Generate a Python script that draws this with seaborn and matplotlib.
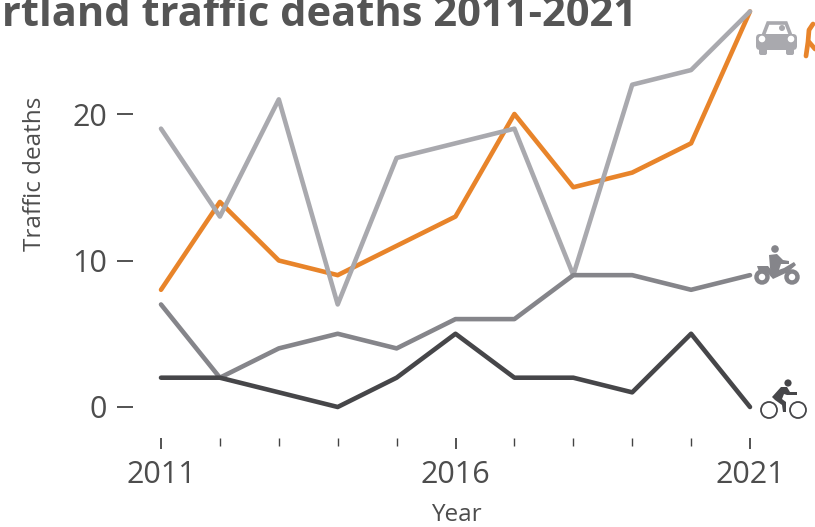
import numpy as np
import pandas as pd
import matplotlib
matplotlib.use("Agg")
import matplotlib.pyplot as plt
import seaborn as sns
from matplotlib.patches import Circle, FancyBboxPatch, Polygon

years = [2011, 2012, 2013, 2014, 2015, 2016, 2017, 2018, 2019, 2020, 2021]
car = [19, 13, 21, 7, 17, 18, 19, 9, 22, 23, 27]
pedestrian = [8, 14, 10, 9, 11, 13, 20, 15, 16, 18, 27]
motorcycle = [7, 2, 4, 5, 4, 6, 6, 9, 9, 8, 9]
bicycle = [2, 2, 1, 0, 2, 5, 2, 2, 1, 5, 0]

title = "Portland traffic deaths 2011-2021"
major_years = [2011, 2016, 2021]
y_ticks = [0, 10, 20]

colors = {"car": "#a9a9ae", "motorcycle": "#85858a", "bicycle": "#464649", "pedestrian": "#e8842a"}

df = pd.DataFrame({"Year": years * 4,
                   "deaths": pedestrian + car + motorcycle + bicycle,
                   "mode": ["pedestrian"] * 11 + ["car"] * 11 + ["motorcycle"] * 11 + ["bicycle"] * 11})

sns.set_style("white")
plt.rcParams["font.family"] = ["Open Sans", "DejaVu Sans"]
plt.rcParams["lines.solid_capstyle"] = "round"
plt.rcParams["lines.solid_joinstyle"] = "round"

W, H = 815, 527
text_col = "#4d4d4d"
fig = plt.figure(figsize=(W / 100, H / 100), dpi=100)

# plot area in pixels, ticks hang outside of it
left, right, top, bottom = 133, 815, 0, 438
ax = fig.add_axes([left / W, 1 - bottom / H, (right - left) / W, (bottom - top) / H])
px_year = 58.9
px_unit = 14.65
ax.set_xlim(2011 - (161 - left) / px_year, 2011 + (right - 161) / px_year)
ax.set_ylim(-(bottom - 407) / px_unit, (407 - top) / px_unit)

sns.lineplot(data=df, x="Year", y="deaths", hue="mode", palette=colors, linewidth=3.3,
             legend=False, ax=ax, clip_on=False)

sns.despine(ax=ax, left=True, bottom=True, top=True, right=True)
ax.patch.set_alpha(0)
ax.set_xticks(major_years)
ax.set_xticks([y for y in years if y not in major_years], minor=True)
ax.set_yticks(y_ticks)
ax.tick_params(axis="x", which="major", length=8, width=1.3, color="#444444", labelsize=22,
               labelcolor=text_col, pad=8, bottom=True)
ax.tick_params(axis="x", which="minor", length=5.5, width=1, color="#444444", bottom=True)
ax.tick_params(axis="y", length=11.5, width=1.3, color="#444444", labelsize=22,
               labelcolor=text_col, pad=7, left=True)
ax.set_xlabel("")
ax.set_ylabel("")

# overlay in pixel coordinates for the texts and icons
ov = fig.add_axes([0, 0, 1, 1], zorder=5)
ov.set_xlim(0, W)
ov.set_ylim(H, 0)
ov.axis("off")

ov.text(637, 26, title, ha="right", va="baseline", fontsize=30, fontweight="bold", color="#555555")
ov.text(456, 515, "Year", ha="center", va="center", fontsize=17.5, color=text_col)
ov.text(35, 174, "Traffic deaths", ha="center", va="center", rotation=90, fontsize=17.5, color=text_col)

# car icon
c = colors["car"]
ov.add_patch(Polygon([(763, 36), (768, 23), (786, 23), (791, 36)], closed=True, fc="none", ec=c, lw=2.6))
ov.add_patch(FancyBboxPatch((756, 34), 41, 16, boxstyle="round,pad=0,rounding_size=4", fc=c, ec="none"))
ov.add_patch(FancyBboxPatch((759, 46), 8, 9, boxstyle="round,pad=0,rounding_size=2", fc=c, ec="none"))
ov.add_patch(FancyBboxPatch((786, 46), 8, 9, boxstyle="round,pad=0,rounding_size=2", fc=c, ec="none"))
ov.add_patch(Circle((782, 28), 3, fc=c, ec="none"))
ov.add_patch(Circle((762, 39), 3.3, fc="white", ec="none"))
ov.add_patch(Circle((791, 39), 3.3, fc="white", ec="none"))

# pedestrian, runs off the right edge
p = colors["pedestrian"]
ov.plot([813, 809, 808, 806], [24, 30, 42, 56], color=p, lw=3.4, clip_on=True)
ov.plot([809, 815], [42, 49], color=p, lw=3.4, clip_on=True)

# motorcycle icon
m = colors["motorcycle"]
ov.add_patch(Circle((775, 249), 3.8, fc=m, ec="none"))
ov.add_patch(Polygon([(769, 255), (777, 254), (783, 260), (789, 261), (789, 264), (781, 264),
                      (779, 270), (777, 277), (771, 277), (770, 268)], closed=True, fc=m, ec="none"))
ov.add_patch(Polygon([(757, 266), (768, 266), (773, 272), (784, 268), (794, 262), (796, 265),
                      (788, 272), (773, 279), (766, 271), (759, 272)], closed=True, fc=m, ec="none"))
ov.add_patch(Circle((762, 277), 5.5, fc="white", ec=m, lw=3.2))
ov.add_patch(Circle((792, 277), 5.5, fc="white", ec=m, lw=3.2))

# bicycle icon
b = colors["bicycle"]
ov.add_patch(Circle((788, 383), 3.6, fc=b, ec="none"))
ov.add_patch(Polygon([(772, 397), (781, 387), (787, 387), (790, 392), (797, 392), (797, 395),
                      (787, 395), (784, 394), (782, 399), (786, 402), (786, 412), (783, 412),
                      (782, 405), (775, 400)], closed=True, fc=b, ec="none"))
ov.add_patch(Circle((769, 410), 8, fc="none", ec=b, lw=1.3))
ov.add_patch(Circle((798, 410), 8, fc="none", ec=b, lw=1.3))

fig.savefig("out.png", dpi=100)
